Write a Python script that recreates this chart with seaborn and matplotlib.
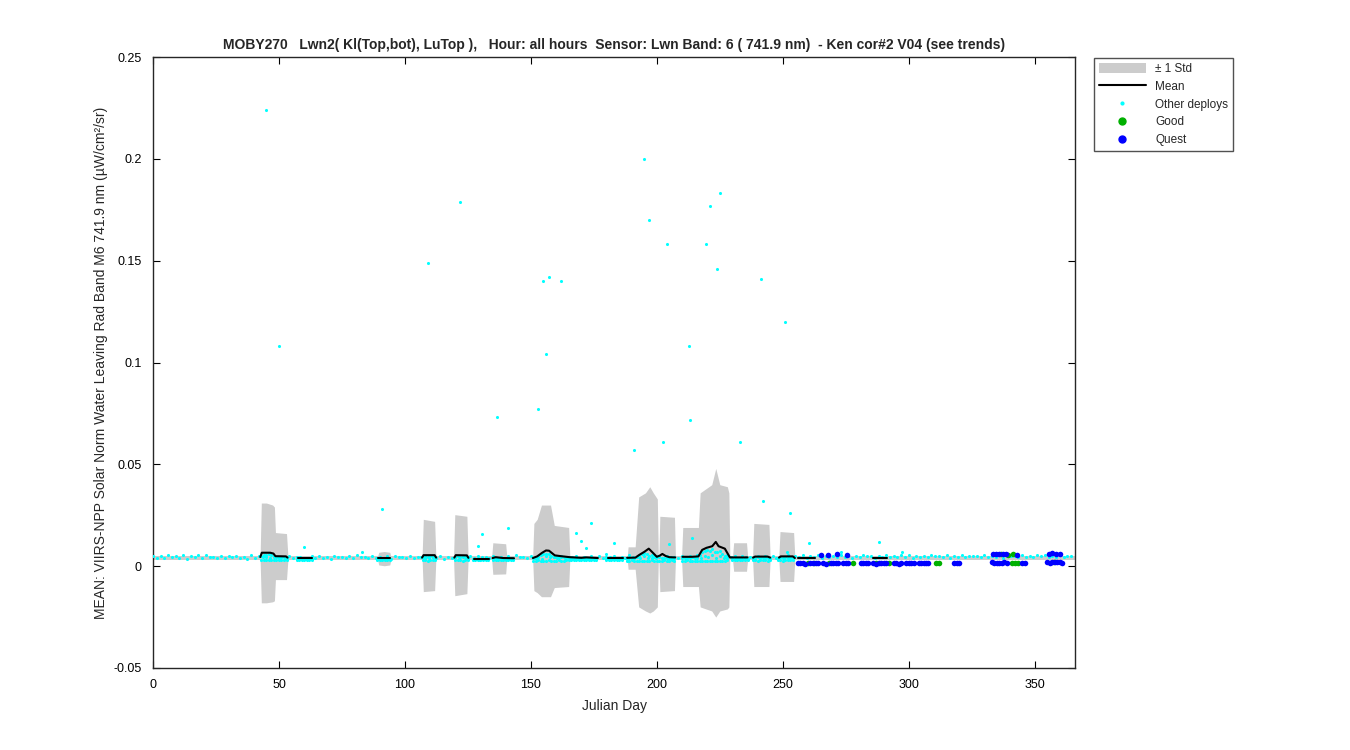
import numpy as np
import pandas as pd
import seaborn as sns
import matplotlib.pyplot as plt
import matplotlib.patches as mpatches
from matplotlib.lines import Line2D

sns.set_style("white")
plt.rcParams['font.family'] = ['Liberation Sans', 'DejaVu Sans']
plt.rcParams['axes.unicode_minus'] = False

# ---------------- data (values in 1e-3 uW/cm^2/sr, converted below) ----------------
# +/- 1 std band, outlined per deployment chunk (day, upper, lower, chunk id)
band_day = [42.5, 43, 45, 47.5, 48.2, 48.6, 53, 53.6,
            89, 89.6, 91.8, 94, 94.6,
            106.8, 107.3, 111.8, 112.3,
            119.3, 119.8, 124.6, 125.1,
            134.4, 134.9, 140, 140.5,
            150.7, 151.2, 152.5, 154.2, 157.8, 159.3, 165, 165.5,
            188.2, 188.6, 191.4, 192.8, 195.5, 197.2, 198.6, 200.2, 200.6,
            200.8, 201.2, 207, 207.4,
            209.8, 210.3, 216.5, 217.2, 221.8, 223.4, 225, 228, 228.6, 229,
            230, 230.5, 235.6, 236.1,
            238, 238.5, 244.5, 245,
            248.4, 248.9, 254.3, 254.8]
band_hi = [4, 31, 31, 30, 29, 16.5, 16, 4,
           4, 6.8, 7.2, 6.8, 4,
           4, 23, 22, 4,
           4, 25.3, 24.5, 4,
           4, 11.5, 11, 4,
           4, 21, 23, 30, 30, 20, 19, 4,
           4, 9.5, 9.5, 34, 36, 39, 36, 33, 4,
           4, 24.5, 24, 4,
           4, 19, 19, 36, 40, 48, 40, 39, 36, 4,
           4, 11.5, 11.5, 4,
           4, 21, 20.5, 4,
           4, 17, 16.5, 4]
band_lo = [4, -18, -18, -17.5, -17, -6.6, -6.6, 4,
           4, 0.6, 0.2, 0.6, 4,
           4, -12.5, -12, 4,
           4, -14.5, -13.5, 4,
           4, -4, -3.8, 4,
           4, -12, -13, -15, -15, -10.5, -10, 4,
           4, -1.5, -1.5, -20, -22, -23, -22, -20, 4,
           4, -12.5, -12, 4,
           4, -10, -10, -20, -22, -25, -22, -21, -20, 4,
           4, -2.5, -2.5, 4,
           4, -10, -10, 4,
           4, -7.5, -7.5, 4]
band_seg = [1]*8 + [2]*5 + [3]*4 + [4]*4 + [5]*4 + [6]*8 + [7]*9 + [8]*4 + [9]*10 + [10]*4 + [11]*4 + [12]*4

# thin climatology strip running the whole year
strip_day = [0, 366]
strip_hi = [5.0, 5.0]
strip_lo = [2.9, 2.9]

# mean line, broken into chunks
mean_day = [42.6, 43.2, 46.5, 47.8, 48.6, 52.8, 53.4,
            57.6, 63.0,
            89.2, 94.2,
            106.8, 107.4, 111.8, 112.4,
            119.6, 120.2, 124.6, 125.2,
            127.3, 133.3,
            134.8, 136, 139, 143.3,
            150.8, 152.5, 154.5, 156, 157.2, 159.5, 162, 165.5, 170, 172, 176.6,
            180.6, 186.5,
            188.2, 191.5, 193, 195, 196.8, 198.5, 200, 201.2, 202.2, 203.5, 205, 207.3,
            210.2, 214, 216.5, 218, 219.7, 222, 223.4, 224.5, 227, 229, 236,
            238.2, 239, 244, 245,
            248.5, 249.2, 254, 254.8,
            256, 262.7,
            285.7, 291.3]
mean_val = [4.5, 6.6, 6.6, 6.2, 4.9, 4.8, 4.2,
            3.8, 3.8,
            3.8, 3.8,
            4.2, 5.4, 5.4, 4.2,
            4.2, 5.4, 5.3, 4.1,
            3.6, 3.6,
            4.0, 4.4, 4.0, 3.9,
            4.0, 4.8, 6.6, 7.7, 7.6, 5.3, 4.9, 4.4, 4.1, 4.3, 4.0,
            3.8, 3.8,
            4.1, 4.2, 5.5, 7.0, 8.6, 6.5, 4.6, 5.2, 6.0, 5.0, 4.4, 4.3,
            4.6, 4.6, 4.8, 8.0, 9.0, 9.8, 11.9, 9.8, 8.6, 4.3, 4.3,
            4.2, 4.7, 4.7, 4.2,
            4.2, 4.8, 4.8, 4.0,
            4.0, 4.0,
            4.0, 4.0]
mean_seg = ([1]*7 + [2]*2 + [3]*2 + [4]*4 + [5]*4 + [6]*2 + [7]*4 + [8]*11 + [9]*2
            + [10]*12 + [11]*11 + [12]*4 + [13]*4 + [14]*2 + [15]*2)

# other deployments: background samples every 3 days
other_base_day = np.arange(0, 364, 3)
other_base_val = [5.2, 4.8, 5.5, 5.0, 5.6, 4.9, 5.3, 5.7, 4.6, 5.2, 4.8, 5.1, 4.7, 5.3, 4.9,
                  4.4, 4.6, 4.3, 5.0, 4.6, 4.2, 5.0, 4.8, 4.5, 5.1, 4.6, 4.9, 5.4, 4.7, 5.2,
                  4.5, 4.8, 5.1, 4.6, 5.0, 4.7, 4.2, 4.4, 5.0, 4.6, 4.3, 4.5, 5.2, 4.8, 4.4,
                  5.0, 4.6, 4.9, 5.3, 4.7, 5.0, 4.5, 4.8, 4.6, 5.1, 4.7, 5.0, 4.6, 5.2, 4.8,
                  4.4, 5.0, 4.7, 5.3, 4.6, 4.9, 5.4, 4.7, 5.0, 4.5, 5.2, 4.8, 5.6, 5.0, 5.3,
                  4.9, 5.5, 4.8, 5.1, 4.6, 5.2, 4.8, 5.0, 4.7, 5.4, 4.9, 5.3, 5.0, 5.6, 4.8,
                  5.2, 5.5, 4.9, 5.1, 5.4, 4.8, 5.2, 5.6, 5.0, 5.3, 5.5, 4.9, 5.2, 5.6, 5.0,
                  5.3, 5.1, 5.5, 4.9, 5.2, 5.4, 5.0, 5.3, 5.6, 5.1, 5.4, 5.0, 5.3, 5.7, 5.2,
                  5.5, 5.0]
# second background pass, offset by a day and a half, lower edge of the cloud
other_base2_day = np.arange(1.5, 365, 3)
other_base2_val = [4.2, 3.8, 4.4, 4.0, 3.7, 4.3, 3.9, 4.5, 4.1, 3.8, 4.4, 4.0, 3.6, 4.2, 4.6,
                   3.9, 4.3, 3.7, 4.1, 4.5, 3.8, 4.2, 4.0, 3.6, 4.4, 4.1, 3.9, 4.5, 3.8, 4.2,
                   4.0, 3.7, 4.3, 4.1, 3.8, 4.4, 3.9, 4.2, 3.6, 4.0, 4.3, 3.8, 4.1, 4.5, 3.9,
                   4.2, 3.7, 4.0, 4.4, 3.8, 4.1, 3.6, 4.3, 4.0, 3.9, 4.4, 3.7, 4.2, 4.0, 3.8,
                   4.3, 4.1, 3.9, 4.5, 3.8, 4.2, 4.0, 3.7, 4.4, 4.1, 3.9, 4.3, 3.8, 4.6, 4.2,
                   4.0, 4.4, 3.9, 4.3, 4.1, 4.5, 4.0, 4.2, 3.8, 4.6, 4.3, 4.1, 4.5, 4.2, 4.7,
                   4.3, 4.6, 4.1, 4.4, 4.8, 4.2, 4.5, 4.3, 4.7, 4.4, 4.1, 4.6, 4.3, 4.8, 4.5,
                   4.2, 4.6, 4.4, 4.9, 4.3, 4.7, 4.5, 4.2, 4.8, 4.4, 4.6, 4.3, 4.9, 4.5, 4.7,
                   4.4, 4.8]

# other deployments: daily samples inside the busy chunks (upper / lower edge of the cloud)
other_chunk_day = np.r_[43:54, 57:64, 89:95, 107:113, 120:126, 127:134, 135:144,
                        151:177, 180:187, 188:208, 210:229, 230:237, 238:246, 248:255]
other_chunk_up = [5.2, 5.6, 5.4, 5.8, 5.5, 5.0, 4.4, 4.2, 4.5, 4.3, 4.1,
                  3.6, 3.5, 3.7, 3.4, 3.6, 3.5, 3.7,
                  3.6, 3.4, 3.5, 3.7, 3.4, 3.6,
                  4.6, 4.9, 4.4, 4.8, 4.5, 4.3,
                  4.5, 4.8, 4.6, 4.9, 4.4, 4.2,
                  3.4, 3.3, 3.5, 3.2, 3.4, 3.3, 3.5,
                  3.7, 3.9, 3.6, 3.8, 3.5, 3.7, 3.4, 3.6, 3.5,
                  3.8, 4.2, 4.9, 5.6, 6.0, 6.2, 5.8, 5.1, 4.6, 4.4, 4.7, 4.3, 4.5, 4.2, 4.0,
                  3.7, 3.6, 3.8, 3.5, 3.7, 3.6, 3.4, 3.7, 3.5, 3.6, 3.4,
                  3.4, 3.5, 3.3, 3.6, 3.4, 3.5, 3.3,
                  3.6, 3.8, 3.7, 4.0, 4.5, 5.2, 5.8, 6.4, 6.0, 5.1, 4.2, 4.6, 5.0, 4.8, 4.1,
                  3.9, 3.8, 3.7, 3.6, 3.8,
                  4.0, 4.2, 3.9, 4.1, 4.3, 4.0, 4.2, 5.5, 6.8, 7.5, 8.0, 7.6, 8.4, 7.2, 6.9,
                  7.4, 6.2, 5.0, 4.2,
                  3.8, 3.6, 3.9, 3.7, 3.5, 3.8, 3.6,
                  4.2, 4.0, 4.4, 4.1, 4.3, 4.0, 4.2, 3.9,
                  4.1, 4.3, 4.0, 4.4, 4.2, 4.0, 4.1]
other_chunk_lo = [3.0, 2.9, 3.1, 2.8, 3.0, 3.1, 2.9, 3.0, 2.8, 3.1, 3.0,
                  3.0, 2.9, 3.1, 3.0, 2.9, 3.1, 3.0,
                  2.9, 3.0, 2.8, 3.0, 2.9, 3.1,
                  2.8, 3.0, 2.7, 2.9, 3.0, 2.8,
                  2.9, 2.8, 3.0, 2.7, 2.9, 3.0,
                  2.9, 3.0, 2.8, 3.0, 2.9, 3.0, 2.8,
                  2.9, 3.0, 2.8, 3.0, 2.9, 2.8, 3.0, 2.9, 3.0,
                  2.7, 2.6, 2.8, 2.5, 2.7, 2.6, 2.8, 2.6, 2.7, 2.5, 2.8, 2.6, 2.7, 2.8, 2.9,
                  3.0, 2.9, 3.0, 2.8, 3.0, 2.9, 3.0, 2.8, 2.9, 3.0, 2.9,
                  2.9, 3.0, 2.8, 3.0, 2.9, 3.0, 2.8,
                  2.7, 2.6, 2.8, 2.5, 2.6, 2.4, 2.6, 2.5, 2.7, 2.6, 2.8, 2.6, 2.5, 2.7, 2.6,
                  2.8, 2.7, 2.6, 2.8, 2.7,
                  2.7, 2.6, 2.8, 2.5, 2.7, 2.6, 2.4, 2.6, 2.5, 2.7, 2.4, 2.6, 2.5, 2.7, 2.6,
                  2.4, 2.6, 2.7, 2.8,
                  2.9, 2.8, 3.0, 2.9, 2.8, 3.0, 2.9,
                  2.8, 2.9, 2.7, 3.0, 2.8, 2.9, 2.7, 2.8,
                  2.8, 2.9, 2.7, 2.9, 2.8, 3.0, 2.8]

# other deployments: scattered high values
other_out_day = [44.8, 50, 60, 83, 91, 109, 122, 129, 130.5, 136.5, 141, 153, 155, 156, 157,
                 162, 168, 170, 172, 174, 180, 183, 191, 195, 197, 202.4, 204, 205, 212.7,
                 213, 214, 219.4, 221, 223.8, 225, 233, 241.3, 242, 251, 251.5, 253, 260.3,
                 273.3, 288.2, 297.3]
other_out_val = [224, 108, 9.6, 7.0, 28, 149, 179, 9.7, 16, 73, 18.5, 77, 140, 104, 142,
                 140, 16.5, 12.6, 9, 21, 6, 11.6, 57, 200, 170, 61, 158, 11, 108,
                 72, 14, 158, 177, 146, 183, 61, 141, 32, 120, 7.0, 26, 11.4,
                 7.0, 11.9, 7.0]

# this deployment
quest_day = [256, 257, 258, 259, 261, 262, 263, 264, 266, 267, 269, 270, 271, 272, 274, 275, 276,
             281, 282, 283, 284, 286, 287, 288, 289, 290, 291,
             294, 295, 296, 297, 299, 300, 301, 302, 304, 305, 306, 307, 307.5,
             318, 319, 320, 333, 334, 335, 336, 337, 338, 339, 345, 346,
             355, 356, 357, 358, 359, 360, 361,
             265, 268, 271.5, 275.5, 333.5, 334.5, 336, 337.5, 338.5,
             355.5, 357, 358.5, 360, 343]
quest_val = [1.8, 1.5, 1.7, 1.3, 1.6, 1.4, 1.8, 1.5, 1.7, 1.3, 1.6, 1.5, 1.8, 1.4, 1.6, 1.7, 1.5,
             1.6, 1.4, 1.7, 1.5, 1.6, 1.3, 1.5, 1.8, 1.4, 1.6,
             1.5, 1.7, 1.3, 1.6, 1.4, 1.8, 1.5, 1.6, 1.4, 1.7, 1.5, 1.8, 1.6,
             1.5, 1.8, 1.6, 1.9, 1.6, 1.8, 1.5, 1.7, 1.9, 1.6, 1.7, 1.8,
             2.0, 1.8, 2.1, 1.9, 2.2, 2.0, 1.8,
             5.6, 5.4, 5.8, 5.5, 5.9, 6.2, 6.0, 5.8, 6.1,
             6.0, 6.4, 6.2, 5.9, 5.7]
good_day = [260, 262.5, 268.5, 278, 287, 292, 311, 312, 336.5, 339.5, 341, 342, 343.5, 341.5, 357.5]
good_val = [1.6, 1.4, 1.5, 1.7, 1.6, 1.5, 1.8, 1.6, 5.8, 5.7, 1.7, 1.6, 1.8, 5.9, 1.9]

title = ("MOBY270   Lwn2( Kl(Top,bot), LuTop ),   Hour: all hours  Sensor: Lwn Band: 6 ( 741.9 nm)"
         "  - Ken cor#2 V04 (see trends)")
ylabel = "MEAN: VIIRS-NPP Solar Norm Water Leaving Rad Band M6 741.9 nm (\u00b5W/cm\u00b2/sr)"
xticks = [0, 50, 100, 150, 200, 250, 300, 350]
yticks = [-0.05, 0, 0.05, 0.1, 0.15, 0.2, 0.25]
ytick_labels = ['-0.05', '0', '0.05', '0.1', '0.15', '0.2', '0.25']

# ---------------- build frames ----------------
k = 1e-3
band_df = pd.DataFrame({'day': band_day, 'hi': np.array(band_hi) * k,
                        'lo': np.array(band_lo) * k, 'seg': band_seg})
mean_df = pd.DataFrame({'day': mean_day, 'val': np.array(mean_val) * k, 'seg': mean_seg})
other_df = pd.concat([
    pd.DataFrame({'day': other_base_day, 'val': np.array(other_base_val) * k}),
    pd.DataFrame({'day': other_base2_day, 'val': np.array(other_base2_val) * k}),
    pd.DataFrame({'day': other_chunk_day, 'val': np.array(other_chunk_up) * k}),
    pd.DataFrame({'day': other_chunk_day, 'val': np.array(other_chunk_lo) * k}),
    pd.DataFrame({'day': other_out_day, 'val': np.array(other_out_val) * k}),
])

# ---------------- plot ----------------
grey = '#cccccc'
cyan = '#00ffff'
green = '#00b000'
blue = '#0000ff'

fig = plt.figure(figsize=(13.5, 7.5), dpi=100)
ax = fig.add_axes([153 / 1350, 1 - 668 / 750, 922 / 1350, 611 / 750])

ax.fill_between(strip_day, np.array(strip_lo) * k, np.array(strip_hi) * k,
                color=grey, lw=0, zorder=1)
for seg, g in band_df.groupby('seg'):
    ax.fill_between(g['day'], g['lo'], g['hi'], color=grey, lw=0, zorder=1)

sns.scatterplot(data=other_df, x='day', y='val', ax=ax, color=cyan, s=5,
                linewidth=0, zorder=3, legend=False)
sns.scatterplot(x=good_day, y=np.array(good_val) * k, ax=ax, color=green, s=16,
                linewidth=0, zorder=4, legend=False)
sns.scatterplot(x=quest_day, y=np.array(quest_val) * k, ax=ax, color=blue, s=16,
                linewidth=0, zorder=4, legend=False)
sns.lineplot(data=mean_df, x='day', y='val', units='seg', estimator=None, sort=False,
             ax=ax, color='black', lw=1.5, zorder=5, legend=False)

ax.set_xlim(0, 366)
ax.set_ylim(-0.05, 0.25)
ax.set_xticks(xticks)
ax.set_xticklabels([str(t) for t in xticks])
ax.set_yticks(yticks)
ax.set_yticklabels(ytick_labels)
ax.tick_params(direction='in', top=True, right=True, bottom=True, left=True,
               length=5, width=0.8, labelsize=9, colors='black', pad=8)
for sp in ax.spines.values():
    sp.set_visible(True)
    sp.set_color('#262626')
    sp.set_linewidth(1.0)

ax.set_title(title, fontsize=10, fontweight='bold', pad=6)
ax.set_xlabel('Julian Day', fontsize=10, labelpad=6)
ax.set_ylabel(ylabel, fontsize=10, labelpad=4)

handles = [mpatches.Patch(facecolor=grey, edgecolor='none'),
           Line2D([], [], color='black', lw=1.5),
           Line2D([], [], ls='none', marker='o', ms=2, color=cyan),
           Line2D([], [], ls='none', marker='o', ms=5, color=green),
           Line2D([], [], ls='none', marker='o', ms=5, color=blue)]
labels = ['\u00b1 1 Std', 'Mean', 'Other deploys', 'Good', 'Quest']
leg = fig.legend(handles, labels, loc='upper left', bbox_to_anchor=(1094 / 1350, 1 - 58 / 750),
                 borderaxespad=0, frameon=True, fancybox=False, fontsize=8.5,
                 handlelength=4, handleheight=0.9, labelspacing=0.5, borderpad=0.4)
leg.get_frame().set_edgecolor('#262626')
leg.get_frame().set_linewidth(1.0)

fig.savefig('out.png', dpi=100, facecolor='white')
